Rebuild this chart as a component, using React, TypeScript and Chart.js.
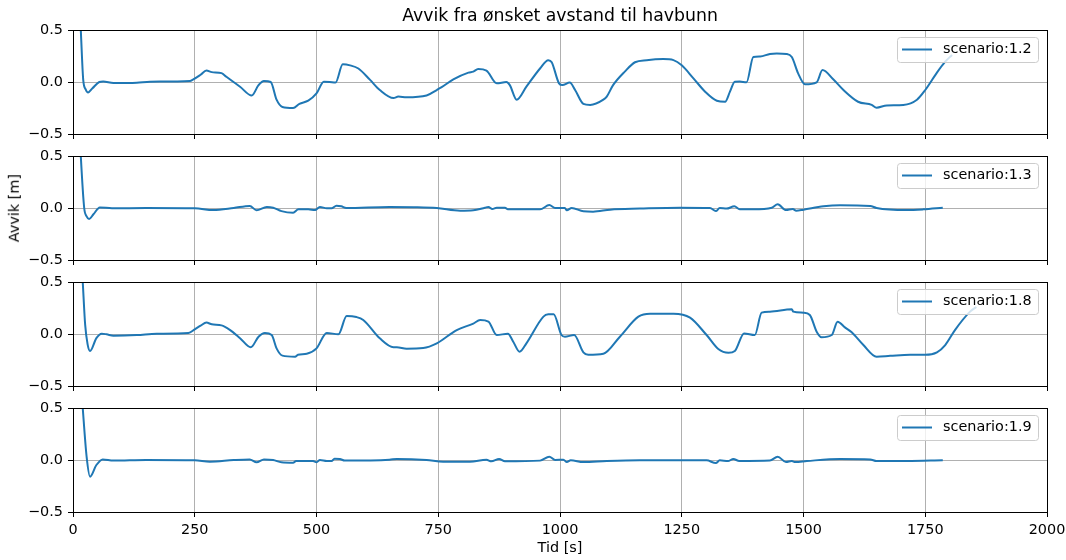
import React, { useEffect, useRef } from 'react';
import { Chart, registerables } from 'chart.js';

Chart.register(...registerables);

const FONT_FAMILY = "'DejaVu Sans', sans-serif";
const LINE_COLOR = '#1f77b4';
const GRID_COLOR = '#b0b0b0';
const TICK_FONT_SIZE = 14.4;

const TITLE = 'Avvik fra ønsket avstand til havbunn';
const X_LABEL = 'Tid [s]';
const Y_LABEL = 'Avvik [m]';

const X_TICKS = [0, 250, 500, 750, 1000, 1250, 1500, 1750, 2000];
const Y_TICKS = [-0.5, 0, 0.5];
const Y_TICK_LABELS = ['−0.5', '0.0', '0.5'];

// scenario 1.2
const time12 = [12, 16, 21, 26, 31, 40, 54, 62, 83, 131, 158, 240, 247, 262, 274, 285, 305, 315, 343, 367, 381, 392, 406, 418, 430, 452, 465, 483, 500, 515, 527, 539, 554, 569, 586, 610, 630, 658, 668, 685, 726, 747, 757, 781, 812, 822, 832, 849, 870, 890, 897, 911, 931, 959, 976, 983, 998, 1005, 1020, 1031, 1048, 1062, 1089, 1096, 1109, 1133, 1154, 1178, 1212, 1233, 1250, 1274, 1298, 1322, 1339, 1349, 1359, 1369, 1383, 1397, 1411, 1431, 1445, 1465, 1476, 1489, 1503, 1527, 1539, 1561, 1582, 1612, 1640, 1650, 1671, 1705, 1733, 1750, 1774, 1791, 1805];
const dev12 = [0.9, 0.5, 0.02, -0.07, -0.1, -0.06, 0.0, 0.005, -0.01, -0.007, 0.003, 0.01, 0.025, 0.07, 0.11, 0.095, 0.085, 0.05, -0.045, -0.13, -0.03, 0.01, 0.0, -0.17, -0.24, -0.25, -0.21, -0.18, -0.11, 0.003, 0.0, -0.006, 0.17, 0.16, 0.13, 0.02, -0.077, -0.154, -0.14, -0.147, -0.13, -0.077, -0.05, 0.025, 0.09, 0.1, 0.125, 0.11, -0.013, 0.0, -0.03, -0.17, -0.045, 0.13, 0.21, 0.19, -0.013, -0.03, -0.006, -0.077, -0.21, -0.22, -0.17, -0.14, -0.03, 0.1, 0.19, 0.21, 0.22, 0.21, 0.16, 0.035, -0.093, -0.18, -0.19, -0.093, 0.003, 0.005, -0.003, 0.24, 0.245, 0.27, 0.275, 0.27, 0.24, 0.083, -0.022, -0.003, 0.115, 0.026, -0.077, -0.19, -0.22, -0.247, -0.225, -0.22, -0.17, -0.077, 0.09, 0.195, 0.26];

// scenario 1.3
const time13 = [12, 16, 23, 28, 33, 42, 55, 80, 150, 250, 288, 330, 363, 377, 398, 411, 428, 452, 463, 483, 497, 507, 521, 531, 541, 551, 561, 650, 700, 747, 795, 822, 846, 853, 861, 870, 887, 893, 959, 978, 990, 1010, 1014, 1024, 1048, 1068, 1103, 1164, 1246, 1308, 1320, 1328, 1342, 1358, 1369, 1397, 1435, 1447, 1464, 1478, 1485, 1500, 1541, 1575, 1637, 1650, 1712, 1746, 1786];
const dev13 = [0.9, 0.5, 0.0, -0.08, -0.106, -0.06, 0.006, -0.003, 0.0, -0.003, -0.02, 0.0, 0.02, -0.022, 0.01, 0.003, -0.03, -0.045, -0.013, -0.013, -0.02, 0.01, -0.003, -0.003, 0.022, 0.016, 0.0, 0.01, 0.008, 0.0, -0.026, -0.022, 0.003, 0.01, -0.01, 0.003, 0.003, -0.013, -0.013, 0.028, 0.0, 0.0, -0.022, 0.0, -0.032, -0.035, -0.016, -0.006, 0.003, 0.0, -0.03, 0.0, -0.006, 0.016, -0.013, -0.013, 0.003, 0.035, -0.02, -0.01, -0.026, -0.016, 0.016, 0.026, 0.02, 0.0, -0.02, -0.013, 0.003];

// scenario 1.8
const time18 = [15, 20, 25, 30, 35, 48, 59, 69, 83, 131, 172, 237, 250, 262, 274, 285, 305, 322, 343, 365, 381, 394, 408, 418, 430, 456, 462, 480, 500, 521, 545, 562, 582, 596, 630, 658, 665, 685, 719, 747, 788, 822, 836, 853, 870, 893, 904, 917, 931, 966, 976, 987, 1003, 1010, 1029, 1048, 1058, 1089, 1123, 1161, 1185, 1233, 1267, 1301, 1325, 1346, 1359, 1378, 1400, 1414, 1431, 1476, 1479, 1500, 1513, 1527, 1537, 1558, 1570, 1585, 1599, 1623, 1650, 1678, 1719, 1750, 1774, 1791, 1811, 1842, 1855];
const dev18 = [0.9, 0.5, 0.087, -0.1, -0.163, -0.04, 0.003, -0.003, -0.016, -0.01, 0.003, 0.01, 0.045, 0.08, 0.11, 0.093, 0.083, 0.04, -0.04, -0.128, -0.026, 0.01, -0.01, -0.138, -0.208, -0.218, -0.2, -0.19, -0.138, 0.01, -0.003, 0.173, 0.163, 0.135, -0.042, -0.128, -0.128, -0.141, -0.135, -0.09, 0.038, 0.1, 0.135, 0.12, -0.01, 0.003, -0.074, -0.17, -0.09, 0.167, 0.189, 0.19, -0.01, -0.026, -0.01, -0.176, -0.2, -0.19, -0.026, 0.167, 0.195, 0.195, 0.157, -0.01, -0.144, -0.18, -0.163, 0.006, -0.01, 0.205, 0.215, 0.237, 0.215, 0.205, 0.183, 0.022, -0.032, -0.01, 0.118, 0.064, 0.016, -0.106, -0.218, -0.21, -0.2, -0.2, -0.176, -0.106, 0.038, 0.215, 0.26];

// scenario 1.9
const time19 = [14, 20, 28, 35, 48, 61, 83, 150, 250, 281, 330, 363, 377, 392, 411, 428, 452, 458, 493, 500, 507, 521, 531, 537, 548, 558, 650, 665, 726, 760, 815, 849, 859, 875, 887, 959, 978, 990, 1007, 1014, 1022, 1048, 1096, 1164, 1301, 1320, 1328, 1345, 1356, 1368, 1431, 1447, 1464, 1476, 1483, 1507, 1575, 1637, 1650, 1712, 1786];
const dev19 = [0.9, 0.5, 0.03, -0.16, -0.048, 0.006, -0.006, 0.0, -0.003, -0.016, 0.0, 0.006, -0.022, 0.006, 0.0, -0.022, -0.026, -0.01, -0.01, -0.022, 0.0, -0.01, -0.01, 0.013, 0.01, -0.006, 0.003, 0.01, 0.0, -0.016, -0.016, 0.003, -0.013, 0.01, -0.013, -0.006, 0.032, 0.0, 0.003, -0.02, -0.003, -0.02, -0.01, -0.003, -0.003, -0.03, -0.003, -0.01, 0.01, -0.01, -0.006, 0.032, -0.02, -0.01, -0.02, -0.01, 0.01, 0.006, -0.01, -0.01, -0.003];

const PANELS = [
  { label: 'scenario:1.2', time: time12, dev: dev12 },
  { label: 'scenario:1.3', time: time13, dev: dev13 },
  { label: 'scenario:1.8', time: time18, dev: dev18 },
  { label: 'scenario:1.9', time: time19, dev: dev19 },
];

// figure geometry
const FIG_W = 1066;
const FIG_H = 560;
const PLOT_LEFT = 73;
const PLOT_RIGHT = 1047;
const FIRST_TOP = 30;
const PANEL_H = 104;
const PANEL_STEP = 126;
const PAD_TOP = 10;
const X_AXIS_H = 40;
const CANVAS_H = PAD_TOP + PANEL_H + X_AXIS_H;

// axes frame on top of the curve, then the legend box
const frameAndLegend = {
  id: 'frameAndLegend',
  afterDatasetsDraw(chart: any, _args: any, opts: any) {
    const { ctx, chartArea: a } = chart;
    ctx.save();
    ctx.strokeStyle = '#000';
    ctx.lineWidth = 1;
    ctx.strokeRect(Math.round(a.left) + 0.5, Math.round(a.top) + 0.5, Math.round(a.right - a.left), Math.round(a.bottom - a.top));

    const font = `${TICK_FONT_SIZE}px ${FONT_FAMILY}`;
    ctx.font = font;
    const tw = ctx.measureText(opts.label).width;
    const boxW = Math.round(tw + 52);
    const boxR = Math.round(a.right) - 9;
    const boxL = boxR - boxW;
    const boxT = Math.round(a.top) + 7;
    const boxH = 25;
    ctx.beginPath();
    ctx.roundRect(boxL + 0.5, boxT + 0.5, boxW, boxH, 3);
    ctx.fillStyle = 'rgba(255,255,255,0.8)';
    ctx.fill();
    ctx.strokeStyle = '#cccccc';
    ctx.lineWidth = 1;
    ctx.stroke();

    const midY = boxT + 12.5;
    ctx.beginPath();
    ctx.moveTo(boxL + 5, midY);
    ctx.lineTo(boxL + 35, midY);
    ctx.strokeStyle = LINE_COLOR;
    ctx.lineWidth = 2;
    ctx.stroke();

    ctx.fillStyle = '#000';
    ctx.textBaseline = 'middle';
    ctx.textAlign = 'left';
    ctx.fillText(opts.label, boxL + 46, midY);
    ctx.restore();
  },
};

function Panel({ index }: { index: number }) {
  const ref = useRef<HTMLCanvasElement>(null);
  const panel = PANELS[index];
  const isBottom = index === PANELS.length - 1;

  useEffect(() => {
    const canvas = ref.current;
    if (!canvas) return;
    const points = panel.time.map((t, i) => ({ x: t, y: panel.dev[i] }));
    const tickFont = { family: FONT_FAMILY, size: TICK_FONT_SIZE };
    const chart = new Chart(canvas, {
      type: 'line',
      data: {
        datasets: [
          {
            label: panel.label,
            data: points,
            borderColor: LINE_COLOR,
            borderWidth: 2,
            pointRadius: 0,
            fill: false,
            cubicInterpolationMode: 'monotone',
            borderJoinStyle: 'round',
            clip: 0,
          },
        ],
      },
      options: {
        animation: false,
        responsive: false,
        devicePixelRatio: 1,
        events: [],
        layout: { padding: { top: PAD_TOP, right: FIG_W - PLOT_RIGHT, left: 0, bottom: 0 } },
        plugins: {
          legend: { display: false },
          tooltip: { enabled: false },
          title: { display: false },
          frameAndLegend: { label: panel.label },
        } as any,
        scales: {
          x: {
            type: 'linear',
            min: 0,
            max: 2000,
            afterBuildTicks: (s: any) => {
              s.ticks = X_TICKS.map((v) => ({ value: v }));
            },
            afterFit: (s: any) => {
              s.height = X_AXIS_H;
              // end labels may hang into the figure margin
              s.paddingLeft = 0;
              s.paddingRight = 0;
            },
            ticks: {
              display: isBottom,
              font: tickFont,
              color: '#000',
              padding: 5,
              maxRotation: 0,
              autoSkip: false,
              callback: (v: any) => String(v),
            },
            grid: { color: GRID_COLOR, lineWidth: 1, tickColor: '#000', tickLength: 5, tickWidth: 1, drawTicks: true },
            border: { display: false },
          },
          y: {
            type: 'linear',
            min: -0.5,
            max: 0.5,
            afterBuildTicks: (s: any) => {
              s.ticks = Y_TICKS.map((v) => ({ value: v }));
            },
            afterFit: (s: any) => {
              s.width = PLOT_LEFT;
              s.paddingTop = 0;
              s.paddingBottom = 0;
            },
            ticks: {
              font: tickFont,
              color: '#000',
              padding: 5,
              callback: (v: any) => Y_TICK_LABELS[Y_TICKS.indexOf(Number(v))] ?? '',
            },
            grid: { color: GRID_COLOR, lineWidth: 1, tickColor: '#000', tickLength: 5, tickWidth: 1, drawTicks: true },
            border: { display: false },
          },
        },
      },
      plugins: [frameAndLegend],
    } as any);
    return () => chart.destroy();
  }, [index]);

  const top = FIRST_TOP + index * PANEL_STEP - PAD_TOP;
  return (
    <canvas
      ref={ref}
      width={FIG_W}
      height={CANVAS_H}
      style={{ position: 'absolute', left: 0, top, width: FIG_W, height: CANVAS_H }}
    />
  );
}

const textBase: React.CSSProperties = {
  position: 'absolute',
  fontFamily: FONT_FAMILY,
  lineHeight: 1,
  color: '#000',
  whiteSpace: 'nowrap',
  textAlign: 'center',
};

export default function App() {
  const plotCenter = (PLOT_LEFT + PLOT_RIGHT) / 2;
  return (
    <div style={{ position: 'absolute', left: 0, top: 0, width: FIG_W, height: FIG_H, background: '#fff', overflow: 'hidden' }}>
      {PANELS.map((_, i) => (
        <Panel key={i} index={i} />
      ))}
      <div style={{ ...textBase, fontSize: 17.3, left: plotCenter - 300, width: 600, top: 6.7, height: 17.3 }}>{TITLE}</div>
      <div style={{ ...textBase, fontSize: TICK_FONT_SIZE, left: plotCenter - 100, width: 200, top: 539.8, height: TICK_FONT_SIZE }}>{X_LABEL}</div>
      <div
        style={{
          ...textBase,
          fontSize: TICK_FONT_SIZE,
          left: 13.8 - 100,
          width: 200,
          top: 208 - TICK_FONT_SIZE / 2,
          height: TICK_FONT_SIZE,
          transform: 'rotate(-90deg)',
          transformOrigin: '50% 50%',
        }}
      >
        {Y_LABEL}
      </div>
    </div>
  );
}
